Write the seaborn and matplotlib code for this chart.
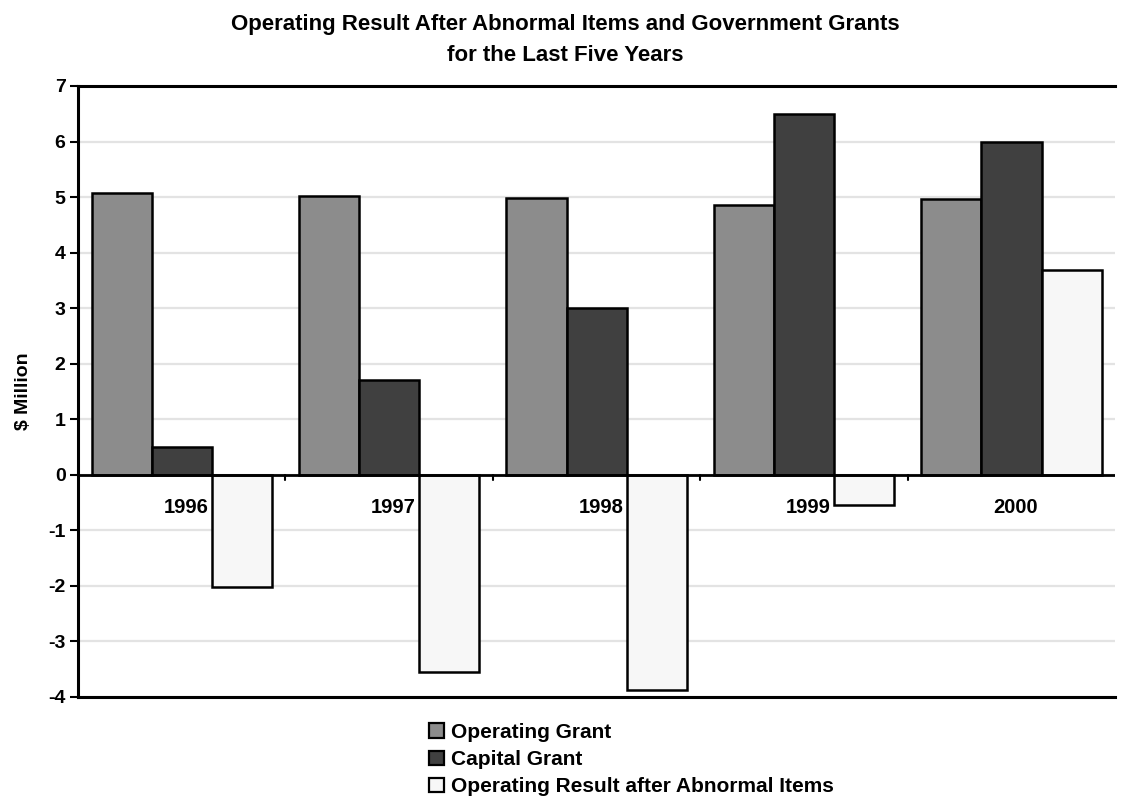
import matplotlib
matplotlib.use("Agg")
import matplotlib.pyplot as plt
import seaborn as sns
import pandas as pd
from matplotlib.patches import Patch

years = ["1996", "1997", "1998", "1999", "2000"]
series_names = ["Operating Grant", "Capital Grant", "Operating Result after Abnormal Items"]
operating_grant = [5.08, 5.02, 4.98, 4.85, 4.97]
capital_grant = [0.50, 1.70, 3.00, 6.50, 6.00]
operating_result = [-2.02, -3.55, -3.88, -0.55, 3.68]
y_ticks = [-4, -3, -2, -1, 0, 1, 2, 3, 4, 5, 6, 7]

colors = ["#8c8c8c", "#404040", "#f7f7f7"]

df = pd.DataFrame({
    "Year": years * 3,
    "Series": [s for s in series_names for _ in years],
    "Value": operating_grant + capital_grant + operating_result,
})

sns.set_theme(style="white")
plt.rcParams["font.family"] = ["Liberation Sans", "DejaVu Sans"]
plt.rcParams["font.weight"] = "bold"
plt.rcParams["text.color"] = "black"
plt.rcParams["axes.labelcolor"] = "black"
plt.rcParams["xtick.color"] = "black"
plt.rcParams["ytick.color"] = "black"

fig = plt.figure(figsize=(11.23, 7.96), dpi=100)
ax = fig.add_axes([0.0695, 0.1244, 0.9235, 0.7676])

sns.barplot(data=df, x="Year", y="Value", hue="Series", palette=colors,
            width=0.87, edgecolor="black", linewidth=1.8, saturation=1,
            ax=ax, legend=False, zorder=3)

ax.set_ylim(-4, 7)
ax.set_xlim(-0.5, len(years) - 0.5)
ax.set_yticks(y_ticks)
ax.set_yticklabels([str(t) for t in y_ticks], fontsize=14, fontweight="bold")
ax.yaxis.grid(True, color="#e3e3e3", linewidth=1.6, zorder=0)
ax.set_axisbelow(True)
ax.tick_params(axis="y", direction="out", length=6, width=1.5, color="black",
               labelcolor="black", pad=3, left=True)

# category labels sit just under the zero line
ax.set_xticks([])
ax.set_xlabel("")
for i, yr in enumerate(years):
    ax.annotate(yr, xy=(i, 0), xytext=(3, -17), textcoords="offset points",
                ha="center", va="top", fontsize=14.5, fontweight="bold", color="black")
ax.axhline(0, color="black", linewidth=2, zorder=4)
for i in range(len(years) - 1):
    ax.plot([i + 0.5, i + 0.5], [0, -0.09], color="black", linewidth=1.5, zorder=4)

for side in ["left", "bottom", "top"]:
    ax.spines[side].set_visible(True)
    ax.spines[side].set_color("black")
    ax.spines[side].set_linewidth(2.2)
ax.spines["right"].set_visible(False)

ax.set_ylabel(r"\$ Million", fontsize=14, fontweight="bold", labelpad=12, color="black")

fig.suptitle("Operating Result After Abnormal Items and Government Grants\nfor the Last Five Years",
             x=0.503, y=0.983, fontsize=16, fontweight="bold", linespacing=1.65, color="black")

handles = [Patch(facecolor=c, edgecolor="black", linewidth=1.6) for c in colors]
fig.legend(handles, series_names, loc="upper left", bbox_to_anchor=(0.382, 0.092),
           frameon=False, prop={"size": 15, "weight": "bold"}, labelcolor="black",
           handlelength=0.7, handleheight=0.7, handletextpad=0.35,
           labelspacing=0.4, borderaxespad=0, borderpad=0)

fig.savefig("out.png", dpi=100)
